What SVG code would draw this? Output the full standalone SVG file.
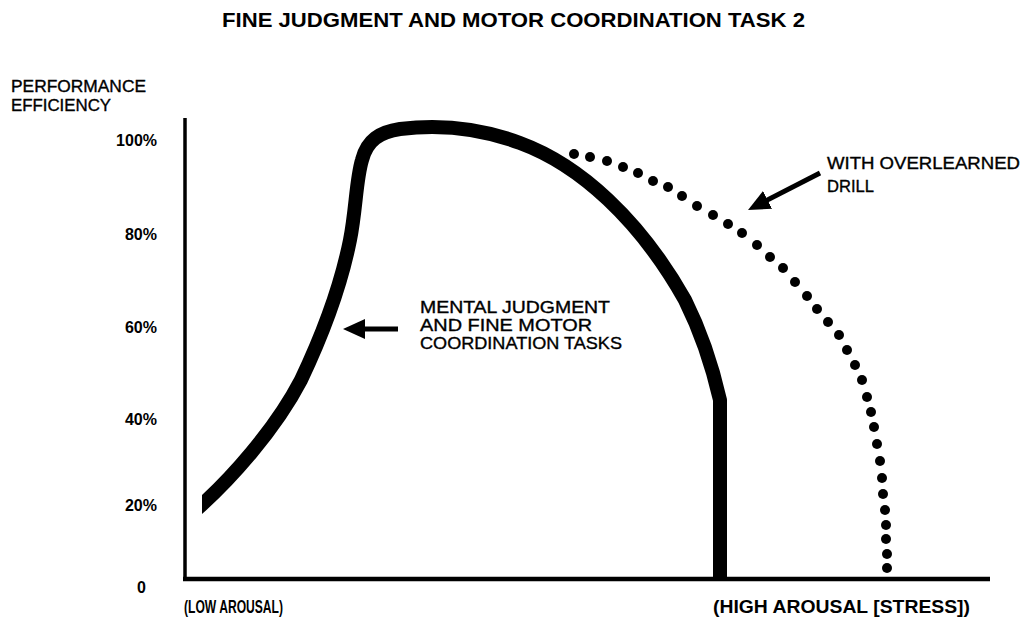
<svg xmlns="http://www.w3.org/2000/svg" width="1023" height="618" viewBox="0 0 1023 618">
<style>
  text { font-family: "Liberation Sans", Arial, sans-serif; fill: #000; }
  .title { font-size: 20px; font-weight: bold; }
  .lab { font-size: 16.5px; stroke: #000; stroke-width: 0.35; }
  .tick { font-size: 16px; font-weight: bold; text-anchor: end; }
  .xlab { font-size: 19px; font-weight: bold; }
  .axis { stroke: #000; fill: none; }
  .curve { stroke: #000; stroke-width: 14; fill: none; stroke-linejoin: round; }
  .dot { fill: #000; }
  .arrow { stroke: #000; stroke-width: 5; fill: none; marker-end: url(#head); }
</style>
<defs>
  <marker id="head" markerUnits="userSpaceOnUse" markerWidth="22" markerHeight="20" viewBox="0 0 22 20" refX="10" refY="10" orient="auto">
    <path d="M0,0 L22,10 L0,20 Z" fill="#000"/>
  </marker>
  <clipPath id="clipL"><rect x="202" y="0" width="821" height="618"/></clipPath>
</defs>
<rect width="1023" height="618" fill="#fff"/>

<g id="title">
  <text class="title" x="222" y="27" textLength="583" lengthAdjust="spacingAndGlyphs">FINE JUDGMENT AND MOTOR COORDINATION TASK 2</text>
</g>

<g id="axes">
  <line class="axis" x1="185" y1="118" x2="185" y2="581" stroke-width="3.5"/>
  <line class="axis" x1="183" y1="579" x2="990" y2="579" stroke-width="4.5"/>
  <text class="lab" x="11" y="92" textLength="135" lengthAdjust="spacingAndGlyphs">PERFORMANCE</text>
  <text class="lab" x="11" y="111" textLength="100" lengthAdjust="spacingAndGlyphs">EFFICIENCY</text>
  <text class="tick" x="157" y="146">100%</text>
  <text class="tick" x="157" y="240">80%</text>
  <text class="tick" x="157" y="333">60%</text>
  <text class="tick" x="157" y="425">40%</text>
  <text class="tick" x="157" y="511">20%</text>
  <text class="tick" x="146" y="593">0</text>
  <text class="xlab" x="184" y="613" textLength="99" lengthAdjust="spacingAndGlyphs">(LOW AROUSAL)</text>
  <text class="xlab" x="713" y="613" textLength="257" lengthAdjust="spacingAndGlyphs">(HIGH AROUSAL [STRESS])</text>
</g>

<g id="curve-mental">
  <path class="curve" clip-path="url(#clipL)" d="M196,510 C230,480 275,430 301,380 C320,340 340,290 350,240 C356,210 356,180 362,160 C367,140 380,132 400,129 C440,124 480,128 520,143 C580,165 640,220 685,300 C700,330 712,365 720,400 L720,580"/>
  <text class="lab" x="420" y="313" textLength="190" lengthAdjust="spacingAndGlyphs">MENTAL JUDGMENT</text>
  <text class="lab" x="420" y="331" textLength="172" lengthAdjust="spacingAndGlyphs">AND FINE MOTOR</text>
  <text class="lab" x="420" y="349" textLength="202" lengthAdjust="spacingAndGlyphs">COORDINATION TASKS</text>
</g>

<g id="curve-drill">
  <circle class="dot" cx="574" cy="154" r="5"/>
  <circle class="dot" cx="590" cy="157" r="5"/>
  <circle class="dot" cx="607" cy="161" r="5"/>
  <circle class="dot" cx="623" cy="167" r="5"/>
  <circle class="dot" cx="638" cy="173" r="5"/>
  <circle class="dot" cx="653" cy="181" r="5"/>
  <circle class="dot" cx="668" cy="187" r="5"/>
  <circle class="dot" cx="682" cy="196" r="5"/>
  <circle class="dot" cx="697" cy="206" r="5"/>
  <circle class="dot" cx="713" cy="215" r="5"/>
  <circle class="dot" cx="728" cy="224" r="5"/>
  <circle class="dot" cx="742" cy="233" r="5"/>
  <circle class="dot" cx="757" cy="245" r="5"/>
  <circle class="dot" cx="770" cy="257" r="5"/>
  <circle class="dot" cx="783" cy="268" r="5"/>
  <circle class="dot" cx="795" cy="282" r="5"/>
  <circle class="dot" cx="807" cy="296" r="5"/>
  <circle class="dot" cx="817" cy="309" r="5"/>
  <circle class="dot" cx="828" cy="322" r="5"/>
  <circle class="dot" cx="839" cy="335" r="5"/>
  <circle class="dot" cx="847" cy="350" r="5"/>
  <circle class="dot" cx="855" cy="365" r="5"/>
  <circle class="dot" cx="862" cy="380" r="5"/>
  <circle class="dot" cx="867" cy="397" r="5"/>
  <circle class="dot" cx="871" cy="412" r="5"/>
  <circle class="dot" cx="874" cy="427" r="5"/>
  <circle class="dot" cx="877" cy="444" r="5"/>
  <circle class="dot" cx="880" cy="461" r="5"/>
  <circle class="dot" cx="882" cy="478" r="5"/>
  <circle class="dot" cx="883" cy="494" r="5"/>
  <circle class="dot" cx="885" cy="510" r="5"/>
  <circle class="dot" cx="886" cy="525" r="5"/>
  <circle class="dot" cx="886" cy="539" r="5"/>
  <circle class="dot" cx="887" cy="554" r="5"/>
  <circle class="dot" cx="887" cy="568" r="5"/>
  <text class="lab" x="827" y="169" textLength="193" lengthAdjust="spacingAndGlyphs">WITH OVERLEARNED</text>
  <text class="lab" x="827" y="192" textLength="47" lengthAdjust="spacingAndGlyphs">DRILL</text>
</g>

<g id="connectors">
  <line class="arrow" x1="398" y1="329" x2="355" y2="329"/>
  <line class="arrow" x1="820" y1="173" x2="758.7" y2="204.5"/>
</g>
</svg>
